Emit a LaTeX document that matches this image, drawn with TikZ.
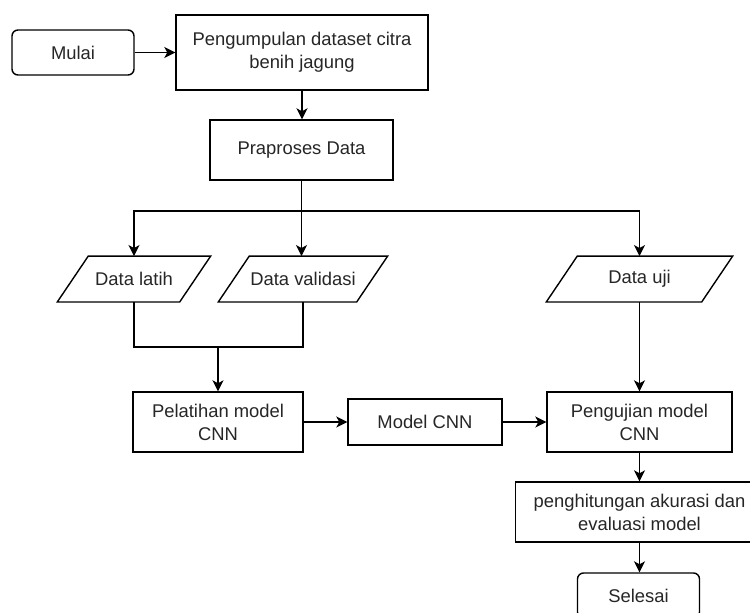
\documentclass[tikz,border=0pt]{standalone}
\usepackage{fontspec}
\setmainfont{Liberation Sans}
\usetikzlibrary{arrows.meta,calc}
\begin{document}
\begin{tikzpicture}[x=1pt,y=-1pt,
  every node/.style={font=\fontsize{18.4}{23}\selectfont, text=black!85, align=center, inner sep=0pt},
  box/.style={draw, line width=1.4pt, minimum width=#1},
  rbox/.style={draw, line width=1.4pt, rounded corners=6pt, minimum width=#1, minimum height=45pt},
  para/.style={minimum width=#1, minimum height=45.5pt},
  line/.style={line width=1.4pt},
  arr/.style={line width=1.4pt, -{Stealth[length=11pt,width=11pt,inset=3pt]}}
]
\clip (0,0) rectangle (750,613);
\fill[white] (0,0) rectangle (750,613);

\node[rbox=122pt] (mulai) at (73,52.5) {Mulai};
\node[box=252pt, minimum height=75pt] (kumpul) at (302,52.5) {Pengumpulan dataset citra\\benih jagung};
\node[box=183pt, minimum height=60pt] (prap) at (301.5,150) {Praproses Data};

\node[para=122pt] (dl) at (134,279) {Data latih};
\node[para=138pt] (dv) at (303,279) {Data validasi};
\node[para=155pt] (du) at (639.5,279) {Data uji};
\foreach \n in {dl,dv,du}
  \draw[line, line join=miter] ([xshift=-15.5pt]\n.south west) -- ([xshift=15.5pt]\n.north west)
     -- ([xshift=15.5pt]\n.north east) -- ([xshift=-15.5pt]\n.south east) -- cycle;

\node[box=170pt, minimum height=60pt] (latih) at (218,422) {Pelatihan model\\CNN};
\node[box=154pt, minimum height=46pt] (model) at (425,422) {Model CNN};
\node[box=185pt, minimum height=60pt] (uji) at (639.5,422) {Pengujian model\\CNN};
\node[box=248pt, minimum height=60pt] (hitung) at (639.5,512) {penghitungan akurasi dan\\evaluasi model};
\node[rbox=122pt] (selesai) at (638.5,595.5) {Selesai};

\coordinate (br) at (302,211);
\coordinate (jn) at (218,347);

\draw[arr] (mulai) -- (kumpul);
\draw[arr] (kumpul.south) -- (kumpul.south |- prap.north);
\draw[arr] (prap.south) -- (prap.south |- dv.north);
\draw[arr] (br) -| (dl.north);
\draw[arr] (br) -| (du.north);
\draw[line] (dl.south) |- (jn) -| (dv.south);
\draw[arr] (jn) -- (latih.north);
\draw[arr] (latih) -- (model);
\draw[arr] (model) -- (uji);
\draw[arr] (du.south) -- (uji.north);
\draw[arr] (uji) -- (hitung);
\draw[arr] (hitung.south) -- (hitung.south |- selesai.north);
\end{tikzpicture}
\end{document}
